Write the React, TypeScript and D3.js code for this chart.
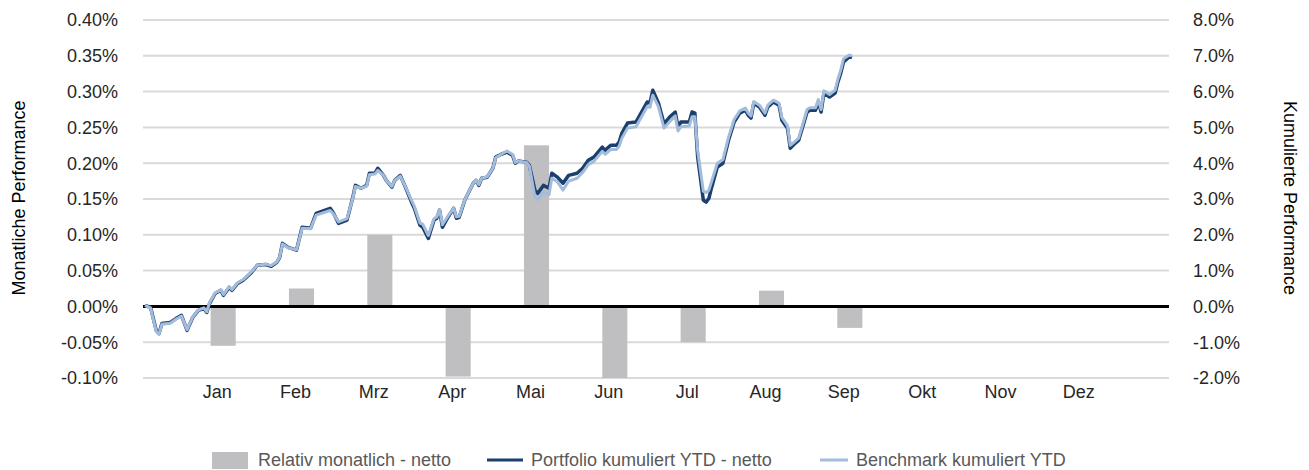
import React, { useEffect, useRef } from 'react';
import * as d3 from 'd3';

const months = ['Jan', 'Feb', 'Mrz', 'Apr', 'Mai', 'Jun', 'Jul', 'Aug', 'Sep', 'Okt', 'Nov', 'Dez'];
// relative monthly performance (left axis, in %)
const relMonthly = [-0.055, 0.025, 0.1, -0.098, 0.225, -0.1, -0.05, 0.022, -0.03, null, null, null];

// day of year of each point of the cumulative lines
const days = [
  0, 2, 4, 5, 6, 9, 11, 13, 15, 17, 19, 21, 22, 23, 25, 27, 28, 30, 31, 33, 35, 38, 40, 43, 45, 47,
  48, 49, 51, 54, 56, 59, 61, 66, 67, 69, 72, 74, 75, 77, 79, 80, 82, 83, 85, 86, 88, 89, 91, 93, 95,
  96, 98, 99, 101, 103, 104, 105, 106, 108, 110, 111, 112, 114, 117, 118, 119, 120, 122, 124,
  125, 127, 129, 131, 132, 133, 136, 137, 139, 140, 142, 144, 145, 147, 149, 151, 154, 156, 158,
  160, 163, 164, 166, 168, 169, 170, 172, 175, 177, 179, 180, 181, 183, 185, 187, 189, 190, 191,
  194, 195, 196, 197, 199, 200, 201, 202, 204, 206, 208, 210, 212, 214, 215, 216, 217, 219, 221,
  222, 224, 226, 227, 229, 230, 231, 233, 236, 237, 239, 240, 241, 242, 244, 246, 247, 248, 249,
  251, 252,
];

// Portfolio kumuliert YTD - netto (right axis, in %)
const portfolio = [
  0.03, -0.03, -0.67, -0.76, -0.48, -0.45, -0.34, -0.25, -0.67, -0.31, -0.11, -0.06, -0.17, 0.08,
  0.36, 0.45, 0.31, 0.53, 0.45, 0.64, 0.73, 0.95, 1.15, 1.17, 1.12, 1.23,
  1.37, 1.76, 1.65, 1.57, 2.21, 2.18, 2.6, 2.74, 2.63, 2.32, 2.41, 3.02, 3.38, 3.3, 3.38, 3.72,
  3.72, 3.86, 3.66, 3.52, 3.33, 3.52, 3.66, 3.3, 2.91,
  2.74, 2.27, 2.21, 1.9, 2.41, 2.46, 2.69, 2.21, 2.49, 2.74, 2.46, 2.49, 2.97, 3.44, 3.52, 3.38,
  3.58, 3.61, 3.86,
  4.17, 4.25, 4.31, 4.22, 4.0, 4.06, 4.03, 3.94, 3.24, 3.16, 3.38, 3.3, 3.72, 3.61, 3.44, 3.66,
  3.72, 3.86, 4.08,
  4.17, 4.45, 4.36, 4.5, 4.5, 4.59, 4.84, 5.12, 5.15, 5.43, 5.71, 5.68, 6.04, 5.68, 5.1, 5.29,
  5.43, 5.01, 5.15,
  5.15, 5.43, 5.4, 4.17, 2.97, 2.91, 3.02, 3.33, 3.89, 4.0, 4.64, 5.15, 5.4, 5.48, 5.34, 5.26,
  5.68, 5.57, 5.34,
  5.57, 5.71, 5.62, 5.2, 4.98, 4.42, 4.5, 4.64, 5.43, 5.48, 5.48, 5.71, 5.43, 5.96, 5.85, 5.96,
  6.27, 6.52, 6.83,
  6.97, 6.95,
];

// Benchmark kumuliert YTD (right axis, in %)
const benchmark = [
  0.03, -0.05, -0.7, -0.78, -0.5, -0.47, -0.36, -0.27, -0.65, -0.3, -0.1, -0.04, -0.15, 0.1,
  0.38, 0.46, 0.33, 0.55, 0.47, 0.66, 0.75, 0.97, 1.15, 1.18, 1.14, 1.24,
  1.38, 1.74, 1.64, 1.58, 2.18, 2.17, 2.55, 2.68, 2.6, 2.36, 2.45, 3.0, 3.35, 3.3, 3.36, 3.68,
  3.7, 3.8, 3.66, 3.52, 3.35, 3.52, 3.64, 3.32, 2.96,
  2.8, 2.33, 2.3, 1.98, 2.45, 2.5, 2.7, 2.28, 2.52, 2.74, 2.5, 2.52, 2.98, 3.44, 3.52, 3.4,
  3.58, 3.62, 3.86,
  4.15, 4.25, 4.34, 4.25, 4.02, 4.06, 4.02, 3.92, 3.05, 2.98, 3.2, 3.12, 3.58, 3.48, 3.25, 3.5,
  3.58, 3.74, 3.96,
  4.05, 4.33, 4.25, 4.38, 4.38, 4.47, 4.7, 4.98, 5.02, 5.3, 5.58, 5.56, 5.9, 5.58, 4.98, 5.16,
  5.32, 4.9, 5.02,
  5.04, 5.3, 5.3, 4.35, 3.22, 3.18, 3.25, 3.5, 4.0, 4.1, 4.72, 5.22, 5.46, 5.54, 5.4, 5.32,
  5.72, 5.62, 5.4,
  5.62, 5.76, 5.68, 5.28, 5.05, 4.5, 4.56, 4.7, 5.5, 5.55, 5.55, 5.78, 5.5, 6.02, 5.92, 6.04,
  6.35, 6.6, 6.92,
  7.02, 7.0,
];

const leftTicks = [-0.1, -0.05, 0, 0.05, 0.1, 0.15, 0.2, 0.25, 0.3, 0.35, 0.4];
const rightTicks = [-2, -1, 0, 1, 2, 3, 4, 5, 6, 7, 8];

const legendItems = [
  { label: 'Relativ monatlich - netto', kind: 'bar' },
  { label: 'Portfolio kumuliert YTD - netto', kind: 'dark' },
  { label: 'Benchmark kumuliert YTD', kind: 'light' },
];

const BAR = '#bfbfc1';
const DARK = '#1b3f6e';
const LIGHT = '#a3bcdc';
const FONT = '"Liberation Sans", Arial, sans-serif';

// plain hyphen for negatives, like the original
const locale = d3.formatLocale({ decimal: '.', thousands: ',', grouping: [3], currency: ['', ''], minus: '-' });

const App: React.FC = () => {
  const svgRef = useRef<SVGSVGElement | null>(null);

  useEffect(() => {
    const width = 1309;
    const height = 470;
    const plotLeft = 143;
    const plotRight = 1169;

    const svg = d3.select(svgRef.current).attr('width', width).attr('height', height);
    svg.selectAll('*').remove();

    const yLeft = d3.scaleLinear().domain([-0.1, 0.4]).range([378, 20]);
    const yRight = d3.scaleLinear().domain([-2, 8]).range([378, 20]);
    const xDay = d3.scaleLinear().domain([0, 365]).range([145, plotRight]);
    const xBand = d3.scaleBand<string>().domain(months).range([184, 1124]).paddingInner(0.68).paddingOuter(0.34);

    // grid
    svg.append('g')
      .selectAll('line')
      .data(leftTicks.filter(t => t !== 0))
      .enter().append('line')
      .attr('x1', plotLeft).attr('x2', plotRight)
      .attr('y1', d => yLeft(d)).attr('y2', d => yLeft(d))
      .attr('stroke', '#d9d9d9').attr('stroke-width', 2);

    // left tick labels
    svg.append('g')
      .selectAll('text')
      .data(leftTicks)
      .enter().append('text')
      .attr('x', 118).attr('y', d => yLeft(d))
      .attr('dy', '0.35em')
      .attr('text-anchor', 'end')
      .style('font-family', FONT).style('font-size', '18px').style('fill', '#262626')
      .text(d => locale.format('.2f')(d) + '%');

    // right tick labels
    svg.append('g')
      .selectAll('text')
      .data(rightTicks)
      .enter().append('text')
      .attr('x', 1193).attr('y', d => yRight(d))
      .attr('dy', '0.35em')
      .style('font-family', FONT).style('font-size', '18px').style('fill', '#262626')
      .text(d => locale.format('.1f')(d) + '%');

    // bars
    const barData = months.map((m, i) => ({ m, v: relMonthly[i] })).filter(d => d.v !== null) as { m: string; v: number }[];
    svg.append('g')
      .selectAll('rect')
      .data(barData)
      .enter().append('rect')
      .attr('x', d => xBand(d.m) as number)
      .attr('width', xBand.bandwidth())
      .attr('y', d => Math.min(yLeft(d.v), yLeft(0)))
      .attr('height', d => Math.abs(yLeft(d.v) - yLeft(0)))
      .attr('fill', BAR);

    // zero line
    svg.append('line')
      .attr('x1', plotLeft).attr('x2', plotRight)
      .attr('y1', yLeft(0)).attr('y2', yLeft(0))
      .attr('stroke', '#000').attr('stroke-width', 3);

    // month labels
    svg.append('g')
      .selectAll('text')
      .data(months)
      .enter().append('text')
      .attr('x', d => (xBand(d) as number) + xBand.bandwidth() / 2 - 6)
      .attr('y', 398)
      .attr('text-anchor', 'middle')
      .style('font-family', FONT).style('font-size', '18px').style('fill', '#262626')
      .text(d => d);

    // cumulative lines
    const line = d3.line<number>()
      .x((_, i) => xDay(days[i]))
      .y(d => yRight(d));

    svg.append('path')
      .datum(portfolio)
      .attr('d', line)
      .attr('fill', 'none')
      .attr('stroke', DARK)
      .attr('stroke-width', 3.5)
      .attr('stroke-linejoin', 'round');

    svg.append('path')
      .datum(benchmark)
      .attr('d', line)
      .attr('fill', 'none')
      .attr('stroke', LIGHT)
      .attr('stroke-width', 3)
      .attr('stroke-linejoin', 'round');

    // axis titles
    svg.append('text')
      .attr('transform', 'translate(25,198) rotate(-90)')
      .attr('text-anchor', 'middle')
      .style('font-family', FONT).style('font-size', '18px').style('fill', '#000')
      .text('Monatliche Performance');

    svg.append('text')
      .attr('transform', 'translate(1284,198) rotate(90)')
      .attr('text-anchor', 'middle')
      .style('font-family', FONT).style('font-size', '18px').style('fill', '#000')
      .text('Kumulierte Performance');

    // legend
    const legendX = [212, 487, 820];
    const lg = svg.append('g')
      .selectAll('g')
      .data(legendItems)
      .enter().append('g')
      .attr('transform', (_, i) => `translate(${legendX[i]},460)`);

    lg.each(function (d) {
      const g = d3.select(this);
      if (d.kind === 'bar') {
        g.append('rect').attr('x', 0).attr('y', -8).attr('width', 36).attr('height', 17).attr('fill', BAR);
        g.append('text').attr('x', 46).attr('dy', '0.35em')
          .style('font-family', FONT).style('font-size', '18px').style('fill', '#595959').text(d.label);
      } else {
        const len = d.kind === 'dark' ? 36 : 28;
        g.append('line').attr('x1', 0).attr('x2', len).attr('y1', 0).attr('y2', 0)
          .attr('stroke', d.kind === 'dark' ? DARK : LIGHT).attr('stroke-width', 3);
        g.append('text').attr('x', len + 8).attr('dy', '0.35em')
          .style('font-family', FONT).style('font-size', '18px').style('fill', '#595959').text(d.label);
      }
    });
  }, []);

  return <svg ref={svgRef} style={{ position: 'absolute', left: 0, top: 0 }}></svg>;
};

export default App;
